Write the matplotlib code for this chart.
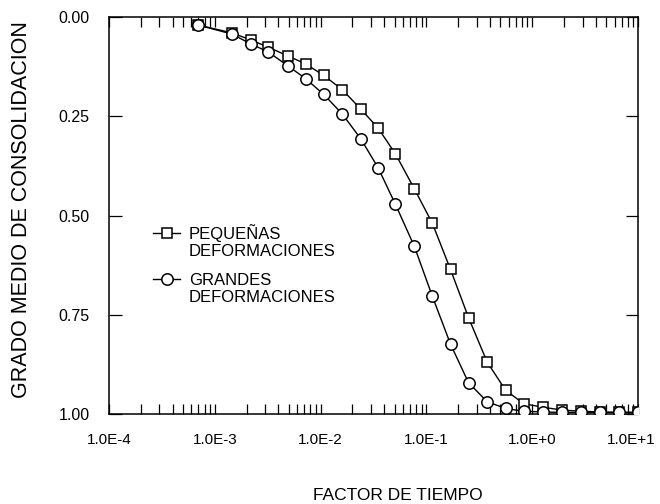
import math
import matplotlib
matplotlib.use("Agg")
import matplotlib.pyplot as plt
from matplotlib.ticker import FuncFormatter, LogLocator, FixedLocator
from matplotlib.transforms import ScaledTranslation

plt.rcParams['font.family'] = ['Liberation Sans', 'DejaVu Sans']

# factor de tiempo (eje x, log)
tiempo = [6.9e-4, 1.45e-3, 2.2e-3, 3.2e-3, 4.9e-3, 7.2e-3, 1.07e-2, 1.6e-2,
          2.4e-2, 3.5e-2, 5.1e-2, 7.7e-2, 0.114, 0.169, 0.25, 0.375, 0.56,
          0.83, 1.27, 1.9, 2.9, 4.4, 6.6, 9.9]

# grado medio de consolidacion
pequenas = [0.02, 0.04, 0.058, 0.076, 0.098, 0.118, 0.147, 0.183, 0.232,
            0.28, 0.345, 0.433, 0.52, 0.636, 0.757, 0.869, 0.94, 0.974,
            0.983, 0.99, 0.993, 0.995, 0.996, 0.996]
grandes = [0.02, 0.043, 0.068, 0.088, 0.123, 0.155, 0.195, 0.244, 0.307,
           0.38, 0.472, 0.578, 0.704, 0.824, 0.921, 0.969, 0.986, 0.993,
           0.995, 0.996, 0.996, 0.996, 0.996, 0.996]

y_ticks = [0.0, 0.25, 0.5, 0.75, 1.0]


def fmt_x(v, pos):
    return "1.0E%+d" % round(math.log10(v))


fig = plt.figure(figsize=(6.6, 5.04), dpi=100)
ax = fig.add_axes([109 / 660, 1 - 414 / 504, 529 / 660, 397 / 504])

ax.plot(tiempo, pequenas, color='black', lw=1.0, marker='s', ms=7.5,
        mfc='white', mec='black', mew=1.1, zorder=3)
ax.plot(tiempo, grandes, color='black', lw=1.0, marker='o', ms=8.2,
        mfc='white', mec='black', mew=1.1, zorder=4)

ax.set_xscale('log')
ax.set_xlim(1e-4, 1e1)
ax.set_ylim(1.0, 0.0)

ax.xaxis.set_major_locator(FixedLocator([1e-4, 1e-3, 1e-2, 1e-1, 1e0, 1e1]))
ax.xaxis.set_minor_locator(LogLocator(base=10, subs=range(2, 10), numticks=20))
ax.xaxis.set_major_formatter(FuncFormatter(fmt_x))
ax.xaxis.set_minor_formatter(FuncFormatter(lambda v, p: ""))
ax.yaxis.set_major_locator(FixedLocator(y_ticks))
ax.yaxis.set_major_formatter(FuncFormatter(lambda v, p: "%.2f" % v))

ax.tick_params(axis='x', which='both', direction='in', top=True, bottom=True,
               length=7, width=0.9, labelsize=11, pad=14)
ax.tick_params(axis='y', which='major', direction='in', left=True, right=True,
               length=9, width=0.9, labelsize=11.5, pad=14)
for s in ax.spines.values():
    s.set_linewidth(1.1)

# leyenda manual
ax.plot([0.083, 0.109, 0.134], [0.456, 0.456, 0.456], transform=ax.transAxes,
        color='black', lw=1.0, marker='s', ms=7.5, mfc='white', mec='black',
        mew=1.1, markevery=[1], clip_on=False)
ax.text(0.151, 0.434, "PEQUEÑAS\nDEFORMACIONES", transform=ax.transAxes,
        fontsize=12, va='center', ha='left', linespacing=1.15)
ax.plot([0.083, 0.109, 0.134], [0.34, 0.34, 0.34], transform=ax.transAxes,
        color='black', lw=1.0, marker='o', ms=8.2, mfc='white', mec='black',
        mew=1.1, markevery=[1], clip_on=False)
ax.text(0.151, 0.315, "GRANDES\nDEFORMACIONES", transform=ax.transAxes,
        fontsize=12, va='center', ha='left', linespacing=1.15)

fig.text(398 / 660, 1 - 495 / 504, "FACTOR DE TIEMPO", fontsize=12.5,
         ha='center', va='center')
fig.text(22 / 660, 1 - 210 / 504, "GRADO MEDIO DE CONSOLIDACION", fontsize=15.5,
         ha='center', va='center', rotation=90)

# la ultima etiqueta se corre un poco para que no quede cortada
fig.canvas.draw()
last_tick = ax.xaxis.get_major_ticks()[-1]
last_tick.label1.set_transform(last_tick.label1.get_transform()
                               + ScaledTranslation(-5 / 72, 0, fig.dpi_scale_trans))

fig.savefig("out.png", dpi=100)
